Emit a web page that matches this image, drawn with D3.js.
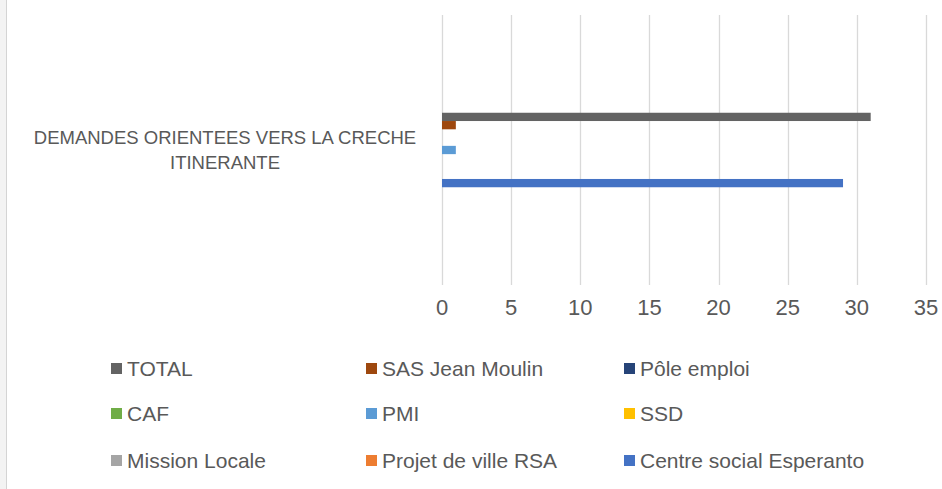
<html>
<head>
    <meta charset="utf-8">
    <title>Demandes orientees vers la creche itinerante</title>
    <style>
        body {margin: 0; background: #fff;}
        svg {display: block;}
        text {font-family: "Liberation Sans", Arial, sans-serif; fill: #595959;}
    </style>
</head>
<body>
    <svg></svg>
    <script src="https://d3js.org/d3.v7.min.js"></script>
    <script type="text/javascript">
    // data
    const categories = ["DEMANDES ORIENTEES VERS LA CRECHE ITINERANTE"];
    const series = ["TOTAL", "SAS Jean Moulin", "Pôle emploi", "CAF", "PMI", "SSD",
                    "Mission Locale", "Projet de ville RSA", "Centre social Esperanto"];
    const values = [31, 1, 0, 0, 1, 0, 0, 0, 29];
    const colors = ["#636363", "#9e480e", "#264478", "#70ad47", "#5b9bd5", "#ffc000",
                    "#a5a5a5", "#ed7d31", "#4472c4"];
    const ticks = [0, 5, 10, 15, 20, 25, 30, 35];

    let width = 942;
    let height = 489;

    let svg = d3.select("svg")
        .attr("width", width)
        .attr("height", height);

    // frame edge on the left
    svg.append("rect").attr("x", 0).attr("y", 0).attr("width", 6).attr("height", height)
        .attr("fill", "#f3f3f3");
    svg.append("line").attr("x1", 6.5).attr("x2", 6.5).attr("y1", 0).attr("y2", height)
        .attr("stroke", "#d4d4d4");

    let x = d3.scaleLinear().domain([0, 35]).range([442, 926]);

    let y0 = d3.scaleBand().domain(categories).range([15, 285])
        .paddingInner(0).paddingOuter(1.312);
    let y1 = d3.scaleBand().domain(series).range([0, y0.bandwidth()]);

    // grid
    svg.append("g").selectAll("line")
        .data(ticks)
        .enter().append("line")
        .attr("x1", d => Math.round(x(d)) + 0.5)
        .attr("x2", d => Math.round(x(d)) + 0.5)
        .attr("y1", 15).attr("y2", 285)
        .attr("stroke", "#d9d9d9").attr("stroke-width", 1.3);

    // tick labels
    svg.append("g").selectAll("text")
        .data(ticks)
        .enter().append("text")
        .attr("x", d => x(d))
        .attr("y", 315)
        .attr("text-anchor", "middle")
        .style("font-size", "22px")
        .text(d => d);

    // bars
    const rows = series.map((s, i) => ({cat: categories[0], name: s, value: values[i], color: colors[i]}));
    svg.append("g").selectAll("rect")
        .data(rows)
        .enter().append("rect")
        .attr("x", x(0))
        .attr("y", d => y0(d.cat) + y1(d.name))
        .attr("width", d => x(d.value) - x(0))
        .attr("height", y1.bandwidth())
        .attr("fill", d => d.color);

    // category label, two lines
    const catLines = ["DEMANDES ORIENTEES VERS LA CRECHE", "ITINERANTE"];
    const cy = y0(categories[0]) + y0.bandwidth() / 2;
    svg.append("g").selectAll("text")
        .data(catLines)
        .enter().append("text")
        .attr("x", 225)
        .attr("y", (d, i) => cy - 6.5 + i * 25)
        .attr("text-anchor", "middle")
        .style("font-size", "18.5px")
        .text(d => d);

    // legend, 3 columns x 3 rows
    const colX = [111, 366, 624];
    const rowY = [369, 414, 461];
    let leg = svg.append("g").selectAll("g")
        .data(rows)
        .enter().append("g")
        .attr("transform", (d, i) => "translate(" + colX[i % 3] + "," + rowY[Math.floor(i / 3)] + ")");
    leg.append("rect")
        .attr("x", 0).attr("y", -6)
        .attr("width", 11).attr("height", 11)
        .attr("fill", d => d.color);
    leg.append("text")
        .attr("x", 16).attr("y", 7)
        .style("font-size", "21px")
        .text(d => d.name);
    </script>
</body>
</html>
